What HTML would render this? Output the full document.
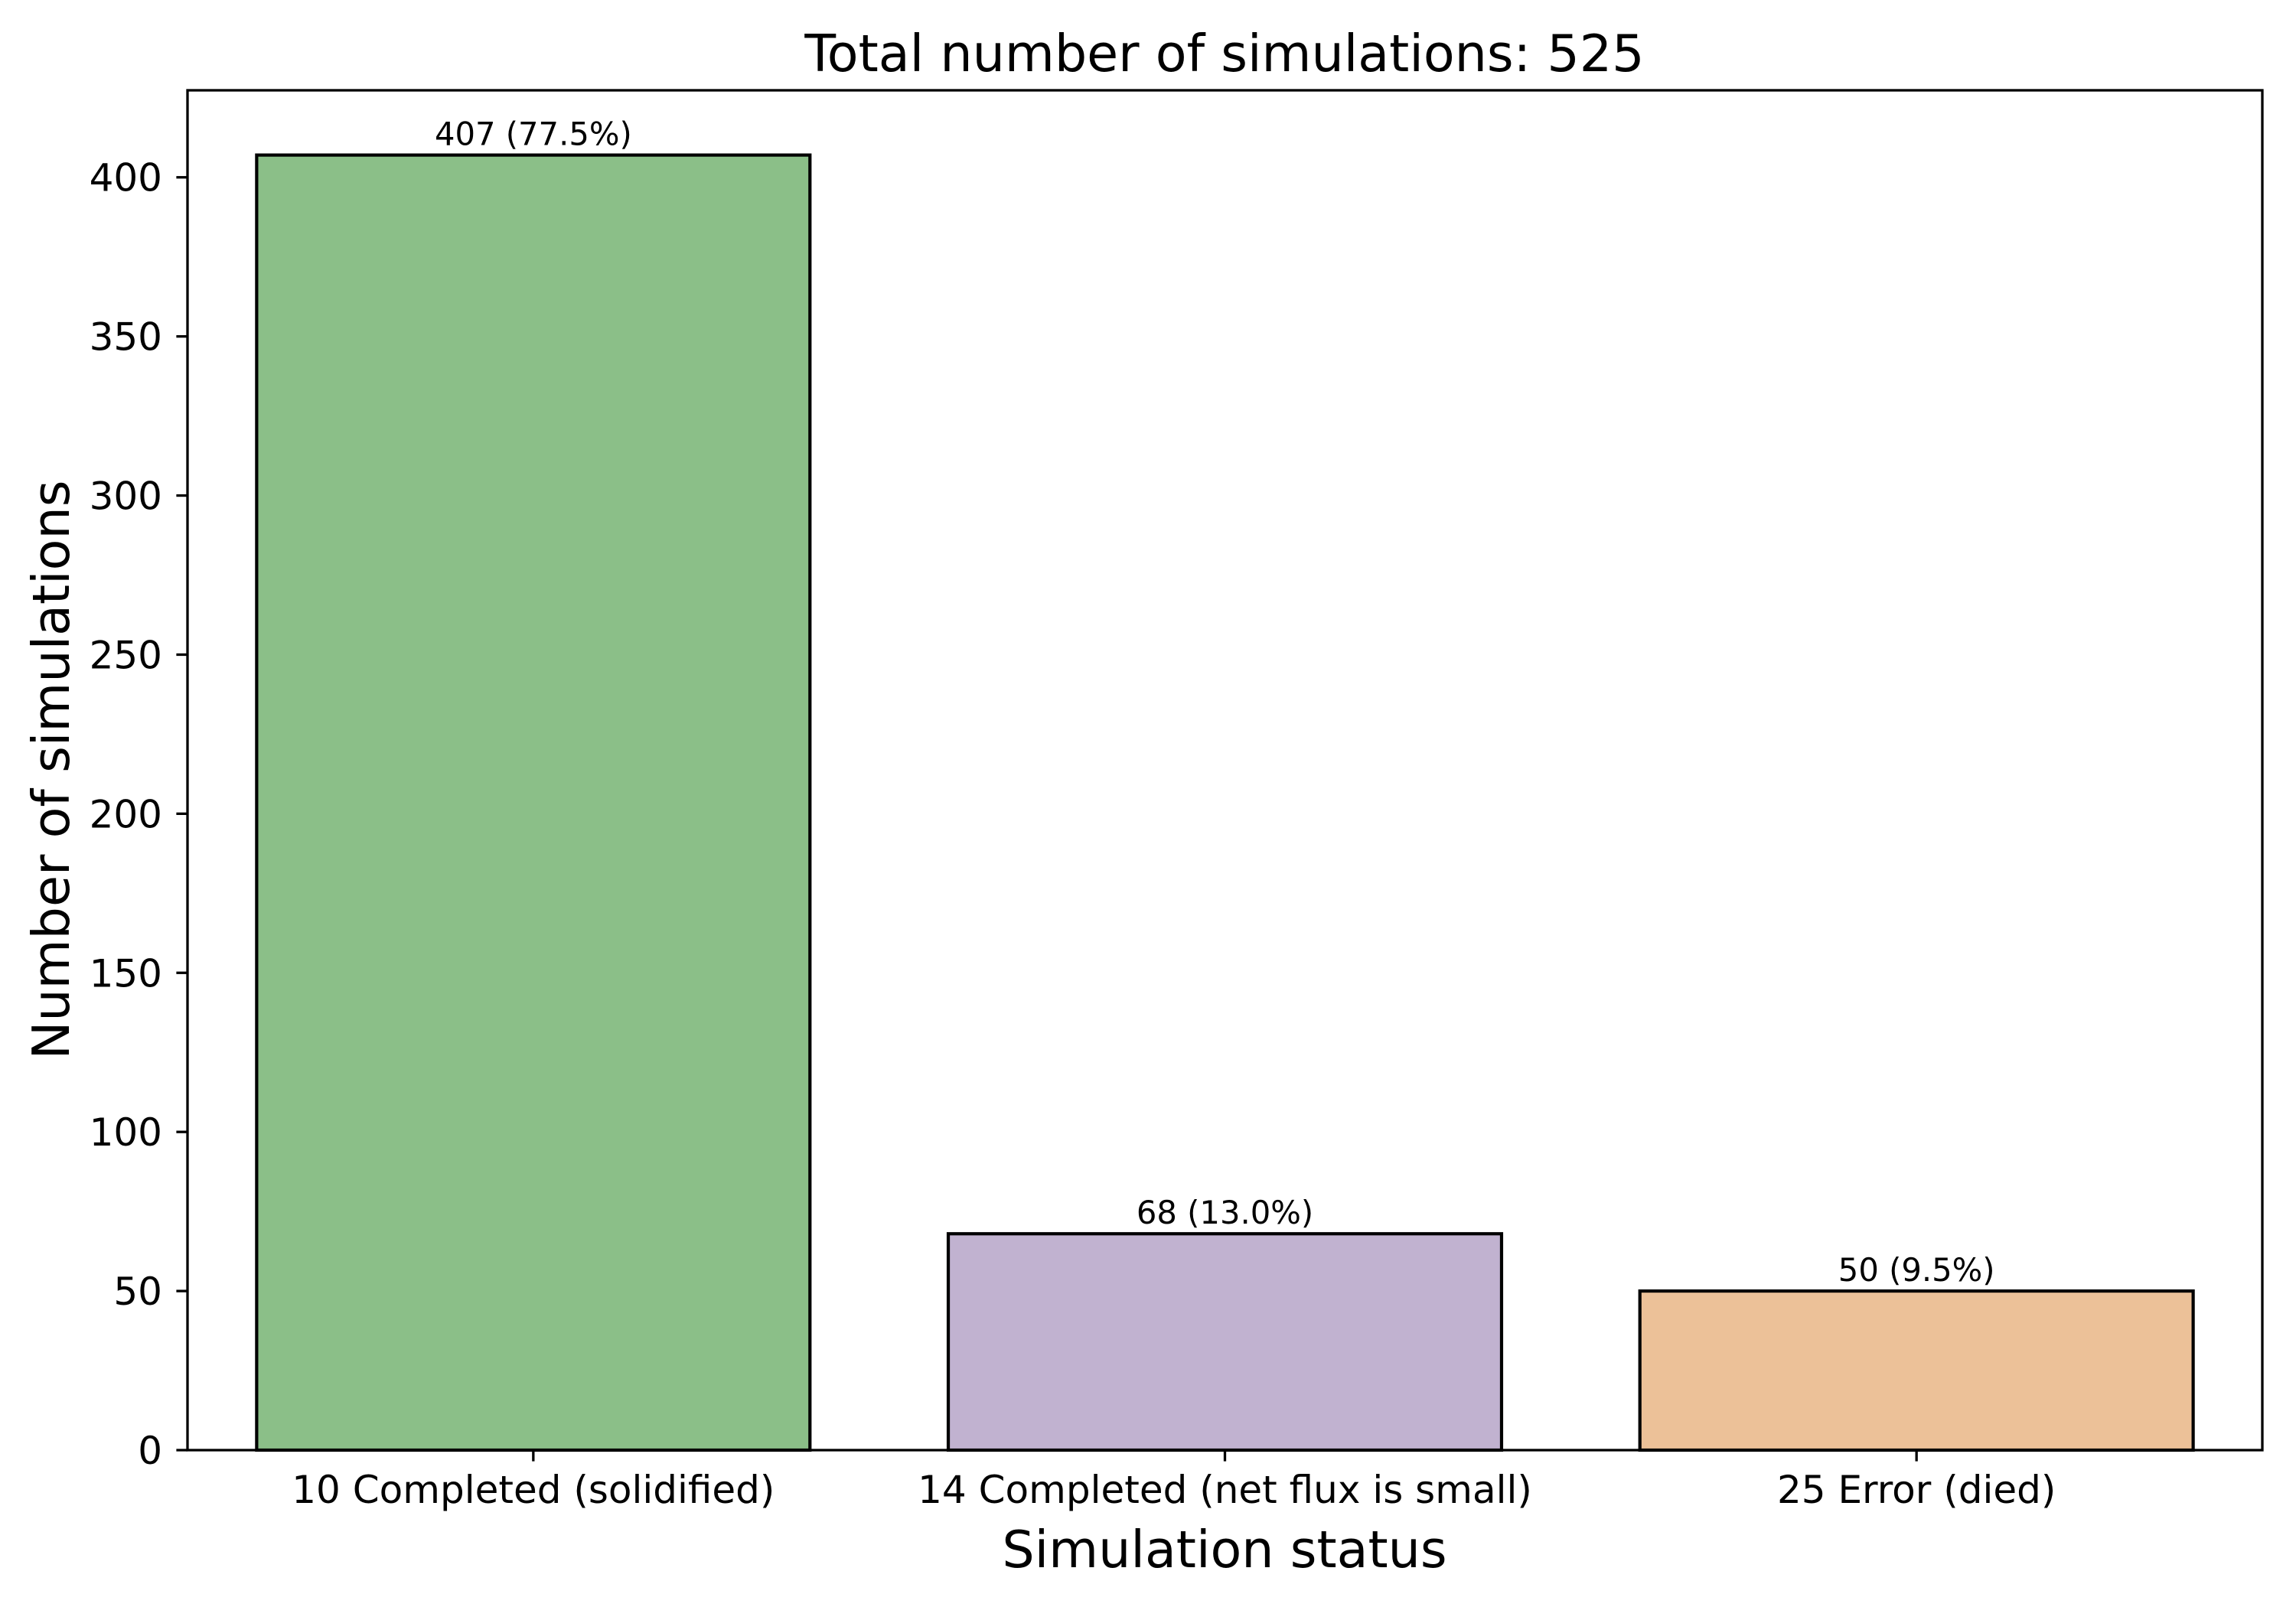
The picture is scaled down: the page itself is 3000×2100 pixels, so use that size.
<!DOCTYPE html>
<html><head><meta charset="utf-8"><style>
html,body{margin:0;padding:0;background:#fff;}
svg{display:block;font-family:"DejaVu Sans","Liberation Sans",sans-serif;}
</style></head><body>
<svg id="chart" width="3000" height="2100" viewBox="0 0 3000 2100" xmlns="http://www.w3.org/2000/svg">
<rect x="0" y="0" width="3000" height="2100" fill="#fff"/>
<text x="1600" y="93" font-size="66.7" text-anchor="middle" fill="#000">Total number of simulations: 525</text>
<text x="1600" y="2048" font-size="66.7" text-anchor="middle" fill="#000">Simulation status</text>
<text x="0" y="0" font-size="66.7" text-anchor="middle" fill="#000" transform="translate(90,1006) rotate(-90)">Number of simulations</text>
<g id="bars"></g>
<g id="ticks"></g>
<rect x="245" y="118" width="2711" height="1777" fill="none" stroke="#000" stroke-width="3.3"/>
</svg>
<script>
const categories = ["10 Completed (solidified)", "14 Completed (net flux is small)", "25 Error (died)"];
const counts = [407, 68, 50];
const barLabels = ["407 (77.5%)", "68 (13.0%)", "50 (9.5%)"];
const colors = ["#8bbf88", "#c1b2d0", "#ecc198"];
const yTicks = [0, 50, 100, 150, 200, 250, 300, 350, 400];

const L = 245, R = 2956, T = 118, B = 1895;
const yMax = Math.max(...counts) * 1.05;
const unit = (R - L) / categories.length;
function xs(i) { return L + unit * (i + 0.5); }
function ys(v) { return B - (v / yMax) * (B - T); }
const NS = "http://www.w3.org/2000/svg";
const bars = document.getElementById("bars");
const ticks = document.getElementById("ticks");
function mk(tag, attrs, parent) {
  const e = document.createElementNS(NS, tag);
  for (const k in attrs) e.setAttribute(k, attrs[k]);
  parent.appendChild(e);
  return e;
}
counts.forEach((v, i) => {
  const w = unit * 0.8;
  const r = mk("rect", {x: xs(i) - w / 2, y: ys(v), width: w, height: B - ys(v), fill: colors[i], stroke: "#000", "stroke-width": 4.2}, bars);
  
  
  const t = mk("text", {x: xs(i), y: ys(v) - 13, "font-size": 41.7, "text-anchor": "middle", fill: "#000"}, bars);
  t.textContent = barLabels[i];
  
  
  const tk = mk("line", {x1: xs(i), x2: xs(i), y1: B, y2: B + 14.6, stroke: "#000", "stroke-width": 3.3}, ticks);
  
  
  const tl = mk("text", {x: xs(i), y: 1964, "font-size": 50, "text-anchor": "middle", fill: "#000"}, ticks);
  tl.textContent = categories[i];
  
  
});
yTicks.forEach(v => {
  const tk = mk("line", {x1: L - 14.6, x2: L, y1: ys(v), y2: ys(v), stroke: "#000", "stroke-width": 3.3}, ticks);
  
  
  const tl = mk("text", {x: 212, y: ys(v) + 18, "font-size": 50, "text-anchor": "end", fill: "#000"}, ticks);
  tl.textContent = String(v);
  
  
});
</script>
</body></html>
